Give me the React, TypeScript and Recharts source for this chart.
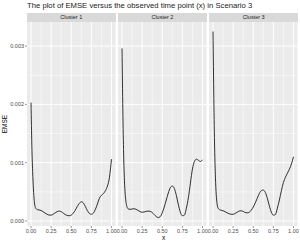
import { LineChart, Line, XAxis, YAxis, CartesianGrid, ReferenceLine } from 'recharts'

// EMSE values are read in units of 1e-4
const SCALE = 1e-4

const xs = [
  0, 0.01, 0.02, 0.03, 0.04, 0.05, 0.06, 0.08, 0.1, 0.125, 0.15, 0.175, 0.2, 0.225, 0.25,
  0.275, 0.3, 0.325, 0.35, 0.375, 0.4, 0.425, 0.45, 0.475, 0.5, 0.525, 0.55, 0.575, 0.6,
  0.625, 0.65, 0.675, 0.7, 0.725, 0.75, 0.775, 0.8, 0.825, 0.85, 0.875, 0.9, 0.925, 0.95,
  0.975, 1,
]

const cluster1 = [
  20.3, 13, 8.5, 5.5, 3.5, 2.5, 2.15, 1.95, 1.9, 1.8, 1.6, 1.35, 1.15, 1.02, 1.0,
  1.15, 1.4, 1.6, 1.7, 1.6, 1.35, 1.1, 0.95, 0.9, 1.0, 1.35, 1.85, 2.5, 3.0,
  3.3, 3.1, 2.5, 1.8, 1.3, 1.15, 1.35, 2.0, 2.9, 3.9, 4.4, 4.7, 5.2, 6.0,
  7.5, 10.6,
]

const cluster2 = [
  29.6, 19, 11.5, 7, 4.5, 3.2, 2.5, 2.05, 2.0, 2.05, 2.1, 2.0, 1.8, 1.6, 1.5,
  1.55, 1.65, 1.7, 1.65, 1.45, 1.1, 0.75, 0.6, 0.75, 1.4, 2.4, 3.6, 4.8, 5.7,
  6.0, 5.6, 4.4, 2.8, 1.5, 0.9, 1.0, 2.2, 4.0, 6.5, 8.9, 10.2, 10.6, 10.4,
  10.2, 10.5,
]

const cluster3 = [
  32.5, 21, 12.5, 7.5, 4.5, 3.0, 2.3, 1.95, 1.85, 1.75, 1.6, 1.4, 1.25, 1.15, 1.15,
  1.3, 1.5, 1.7, 1.75, 1.65, 1.45, 1.4, 1.5, 1.85, 2.4, 3.1, 3.9, 4.7, 5.2,
  5.3, 4.9, 3.9, 2.6, 1.5, 1.0, 1.1, 2.2, 3.6, 5.2, 6.6, 7.5, 8.2, 8.9,
  9.8, 11.0,
]

const clusterNames = ['Cluster 1', 'Cluster 2', 'Cluster 3']
const xTicks = [0, 0.25, 0.5, 0.75, 1]
const xMinor = [0.125, 0.375, 0.625, 0.875]
const yTicks = [0, 0.001, 0.002, 0.003]
const yMinor = [0.0005, 0.0015, 0.0025]

const PLOT_TOP = 22
const PLOT_H = 204
const AXIS_H = 10
const Y_AXIS_W = 27
const PANEL_W = 88.5
const GAP = 2.7
const PAD = 8 // room for the last tick label
const FONT = 'Liberation Sans, Arial, sans-serif'

function Panel({ values, index }: { values: number[]; index: number }) {
  const data = xs.map((x, i) => ({ x, emse: values[i] * SCALE }))
  const showY = index === 0
  const plotLeft = Y_AXIS_W + index * (PANEL_W + GAP)

  return (
    <>
      <div
        style={{
          position: 'absolute',
          left: plotLeft,
          top: 13,
          width: PANEL_W,
          height: 9,
          background: '#D9D9D9',
          color: '#1A1A1A',
          fontSize: 5.5,
          lineHeight: '9px',
          textAlign: 'center',
        }}
      >
        {clusterNames[index]}
      </div>
      <div style={{ position: 'absolute', left: plotLeft - Y_AXIS_W, top: PLOT_TOP }}>
        <LineChart
          width={Y_AXIS_W + PANEL_W + PAD}
          height={PLOT_H + AXIS_H}
          data={data}
          margin={{ top: 0, right: PAD, bottom: 0, left: 0 }}
        >
          <CartesianGrid fill="#EBEBEB" horizontal={false} vertical={false} />
          <XAxis
            dataKey="x"
            type="number"
            domain={[-0.05, 1.05]}
            ticks={xTicks}
            interval={0}
            tickFormatter={(v: number) => v.toFixed(2)}
            height={AXIS_H}
            axisLine={false}
            tickSize={2}
            tickMargin={1}
            tickLine={{ stroke: '#333333', strokeWidth: 0.5 }}
            tick={{ fontSize: 5.5, fill: '#4D4D4D' }}
            allowDataOverflow
          />
          <YAxis
            type="number"
            domain={[-0.000086, 0.003413]}
            ticks={yTicks}
            interval={0}
            tickFormatter={(v: number) => v.toFixed(3)}
            width={Y_AXIS_W}
            axisLine={false}
            tickSize={2}
            tickMargin={1}
            tickLine={showY ? { stroke: '#333333', strokeWidth: 0.5 } : false}
            tick={showY ? { fontSize: 5.5, fill: '#4D4D4D' } : false}
            allowDataOverflow
          />
          {yMinor.map((v) => (
            <ReferenceLine key={'ym' + v} y={v} stroke="#FFFFFF" strokeWidth={0.5} />
          ))}
          {xMinor.map((v) => (
            <ReferenceLine key={'xm' + v} x={v} stroke="#FFFFFF" strokeWidth={0.5} />
          ))}
          {yTicks.map((v) => (
            <ReferenceLine key={'y' + v} y={v} stroke="#FFFFFF" strokeWidth={1} />
          ))}
          {xTicks.map((v) => (
            <ReferenceLine key={'x' + v} x={v} stroke="#FFFFFF" strokeWidth={1} />
          ))}
          <Line
            type="monotone"
            dataKey="emse"
            stroke="#1A1A1A"
            strokeWidth={0.9}
            dot={false}
            isAnimationActive={false}
          />
        </LineChart>
      </div>
    </>
  )
}

export default function App() {
  return (
    <div
      style={{
        position: 'fixed',
        left: 0,
        top: 0,
        width: 300,
        height: 245,
        background: '#FFFFFF',
        fontFamily: FONT,
      }}
    >
      <div
        style={{
          position: 'absolute',
          left: 27,
          top: 1,
          fontSize: 7.7,
          lineHeight: '10px',
          color: '#1A1A1A',
          whiteSpace: 'nowrap',
        }}
      >
        The plot of EMSE versus the observed time point (x) in Scenario 3
      </div>
      {[cluster1, cluster2, cluster3].map((vals, i) => (
        <Panel key={i} values={vals} index={i} />
      ))}
      <div
        style={{
          position: 'absolute',
          left: 0,
          top: 234,
          width: 300,
          paddingLeft: 27,
          boxSizing: 'border-box',
          textAlign: 'center',
          fontSize: 6.5,
          lineHeight: '8px',
        }}
      >
        x
      </div>
      <div
        style={{
          position: 'absolute',
          left: 5,
          top: PLOT_TOP + PLOT_H / 2,
          transform: 'translate(-50%, -50%) rotate(-90deg)',
          fontSize: 6.5,
          lineHeight: '8px',
          whiteSpace: 'nowrap',
        }}
      >
        EMSE
      </div>
    </div>
  )
}
